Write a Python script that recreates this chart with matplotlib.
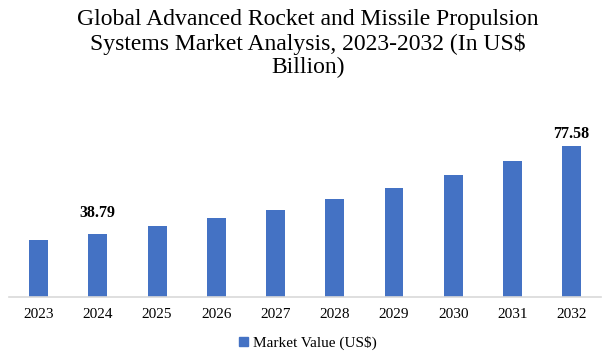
import numpy as np
import matplotlib.pyplot as plt
from matplotlib.patches import Patch

# 数据 (US$ Billion), 轴下限约 11
years = ['2023', '2024', '2025', '2026', '2027', '2028', '2029', '2030', '2031', '2032']
values = [36.14, 38.79, 42.18, 45.84, 49.37, 54.22, 59.06, 64.80, 70.97, 77.58]
labelled = {1: '38.79', 9: '77.58'}

bar_color = '#4472C4'
serif = ['Liberation Serif', 'DejaVu Serif']

fig = plt.figure(figsize=(6.16, 3.64), dpi=100)
ax = fig.add_axes([0.0146, 0.1849, 0.9615, 0.4992])

x = np.arange(len(years))
ax.bar(x, values, width=0.32, color=bar_color, zorder=2)

# 标签偏移 (points)
offsets = {1: 9, 9: 3}
for i, txt in labelled.items():
    ax.annotate(txt, (x[i], values[i]), xytext=(0, offsets[i]),
                textcoords='offset points', ha='center', va='bottom',
                fontsize=11.5, fontweight='bold', family=serif)

ax.set_xlim(-0.5, len(years) - 0.5)
ax.set_ylim(11.15, 91.2)
ax.set_xticks(x)
ax.set_xticklabels(years, fontsize=11, family=serif)
ax.set_yticks([])
ax.tick_params(axis='x', length=0, pad=8)
for s in ['top', 'right', 'left']:
    ax.spines[s].set_visible(False)
ax.spines['bottom'].set_color('#d9d9d9')
ax.spines['bottom'].set_linewidth(1.2)

fig.text(0.5, 0.975, 'Global Advanced Rocket and Missile Propulsion\n'
         'Systems Market Analysis, 2023-2032 (In US$\nBillion)',
         ha='center', va='top', fontsize=17, family=serif, linespacing=1.15)

fig.legend(handles=[Patch(color=bar_color, label='Market Value (US$)')],
           loc='center', bbox_to_anchor=(0.5, 0.058), frameon=False,
           prop={'family': serif, 'size': 11}, handlelength=0.6,
           handleheight=0.6, handletextpad=0.3)

plt.savefig('out.png', dpi=100)
